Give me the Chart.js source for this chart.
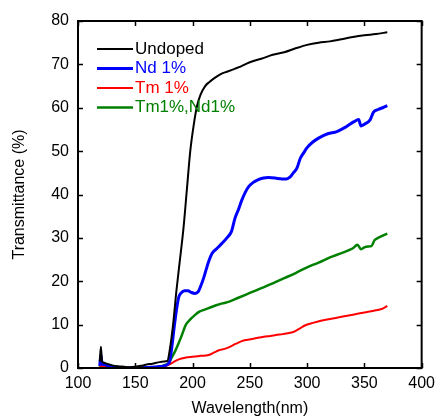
<!DOCTYPE html>
<html>
<head>
<meta charset="utf-8">
<script src="https://cdn.jsdelivr.net/npm/chart.js@4"></script>
<style>
html,body{margin:0;padding:0;background:#fff;}
#wrap{width:441px;height:418px;}
</style>
</head>
<body>
<div id="wrap"><canvas id="c" width="441" height="418"></canvas></div>
<script>
const seriesNames = ["Undoped", "Nd 1%", "Tm 1%", "Tm1%,Nd1%"];
const seriesColors = ["#000000", "#0000ff", "#ff0000", "#008000"];
const xTicks = [100, 150, 200, 250, 300, 350, 400];
const yTicks = [0, 10, 20, 30, 40, 50, 60, 70, 80];

const undopedWl = [119,120,121,123,125,130,135,140,145,150,155,160,165,170,175,178,180,183,186,189,192,195,198,201,204,207,211,215,220,225,230,235,240,250,260,270,280,290,300,310,320,330,340,350,360,370];
const undopedT  = [1.5,4.9,1.5,1.2,1.0,0.6,0.4,0.3,0.2,0.3,0.5,0.8,1.0,1.3,1.5,1.6,4,10,18,25,32,41,50,56,60.5,63,65,66,67,67.8,68.3,68.8,69.3,70.5,71.3,72.2,72.8,73.7,74.5,75,75.3,75.8,76.3,76.7,77,77.4];

const nd1Wl = [119,120,121,123,125,130,135,140,150,160,165,170,175,178,180,182,184,186,188,190,193,196,199,202,205,208,210,212,214,217,221,226,230,234,237,240,243,246,249,253,257,262,266,272,278,282,285,288,291,294,297,300,305,310,318,326,334,341,345,347,350,355,358,362,366,370];
const nd1T  = [0.5,3.0,1.0,0.8,0.6,0.3,0.1,0,0,0.1,0.2,0.3,0.5,0.8,1.5,5,9.5,13.5,16.4,17.3,17.8,17.8,17.4,17.2,17.6,19.5,21,22.8,24.5,26.4,27.5,28.8,30,31.5,34.5,36.5,38.7,40.5,41.8,42.8,43.4,43.8,43.9,43.8,43.6,43.6,44,45,46,48.3,49.6,50.8,52.1,53,54,54.5,55.6,56.8,57.3,55.8,56.2,57.2,59,59.6,60,60.5];

const tm1Wl = [119,120,121,125,130,140,150,160,170,175,179,183,188,194,200,207,214,219,223,228,232,238,243,248,254,260,268,276,283,288,293,298,305,312,320,330,340,350,360,365,370];
const tm1T  = [0.3,0.8,0.3,0.2,0.1,0,0,0,0.1,0.3,0.7,1.3,2,2.4,2.6,2.8,3,3.6,4.1,4.4,4.8,5.6,6.2,6.5,6.8,7.1,7.4,7.7,8,8.3,9,9.8,10.4,10.9,11.3,11.8,12.3,12.8,13.3,13.6,14.3];

const tmNdWl = [119,120,121,125,130,140,150,160,170,175,179,182,185,188,191,194,198,202,206,210,214,220,226,232,240,250,260,270,280,290,300,310,320,330,340,344,347,350,353,356,359,362,366,370];
const tmNdT  = [0.3,1.2,0.4,0.3,0.2,0,0,0.1,0.3,0.6,1.1,2.5,4,5.8,7.8,9.9,11.2,12.2,13,13.4,13.8,14.4,14.9,15.3,16.2,17.3,18.4,19.5,20.7,21.9,23.2,24.3,25.5,26.5,27.6,28.4,27.4,27.8,28,28.1,29.5,30,30.5,31];

const seriesWl = [undopedWl, nd1Wl, tm1Wl, tmNdWl];
const seriesT = [undopedT, nd1T, tm1T, tmNdT];
const seriesWidths = [2, 3, 2, 2.5];

const FONT = "'Liberation Sans', Arial, sans-serif";

const datasets = seriesNames.map((name, i) => ({
  label: name,
  data: seriesWl[i].map((w, j) => ({x: w, y: seriesT[i][j]})),
  borderColor: seriesColors[i],
  backgroundColor: seriesColors[i],
  borderWidth: seriesWidths[i],
  pointRadius: 0,
  showLine: true,
  fill: false,
  cubicInterpolationMode: 'monotone'
}));

const framePlugin = {
  id: 'frame',
  afterDraw(chart) {
    const ctx = chart.ctx, a = chart.chartArea;
    const xs = chart.scales.x, ys = chart.scales.y;
    ctx.save();
    ctx.strokeStyle = '#000';
    ctx.lineWidth = 2;
    ctx.strokeRect(a.left, a.top, a.right - a.left, a.bottom - a.top);
    ctx.lineWidth = 1.5;
    const L = 5;
    ctx.beginPath();
    xTicks.forEach(v => {
      const p = Math.round(xs.getPixelForValue(v)) + 0.5;
      ctx.moveTo(p, a.bottom); ctx.lineTo(p, a.bottom - L);
      ctx.moveTo(p, a.top); ctx.lineTo(p, a.top + L);
    });
    yTicks.forEach(v => {
      const p = Math.round(ys.getPixelForValue(v)) + 0.5;
      ctx.moveTo(a.left, p); ctx.lineTo(a.left + L, p);
      ctx.moveTo(a.right, p); ctx.lineTo(a.right - L, p);
    });
    ctx.stroke();

    // legend
    ctx.font = '17px ' + FONT;
    ctx.textBaseline = 'middle';
    ctx.textAlign = 'left';
    seriesNames.forEach((n, i) => {
      const y = a.top + 28 + i * 19.5;
      ctx.strokeStyle = seriesColors[i];
      ctx.lineWidth = seriesWidths[i];
      ctx.beginPath();
      ctx.moveTo(a.left + 19, y);
      ctx.lineTo(a.left + 55, y);
      ctx.stroke();
      ctx.fillStyle = seriesColors[i];
      ctx.fillText(n, a.left + 57, y);
    });
    ctx.restore();
  }
};

new Chart(document.getElementById('c'), {
  type: 'scatter',
  data: { datasets },
  options: {
    responsive: false,
    animation: false,
    devicePixelRatio: 1,
    layout: { padding: { top: 21, right: 15, left: 0, bottom: 0 } },
    plugins: { legend: { display: false }, tooltip: { enabled: false } },
    scales: {
      x: {
        type: 'linear', min: 100, max: 400,
        afterBuildTicks: s => { s.ticks = xTicks.map(v => ({value: v})); },
        afterFit: s => { s.height = 50; },
        grid: { display: false, drawTicks: false },
        border: { display: false },
        ticks: { color: '#000', font: { family: FONT, size: 16 }, padding: 6, maxRotation: 0 },
        title: { display: true, text: 'Wavelength(nm)', color: '#000', font: { family: FONT, size: 16 }, padding: { top: 0, bottom: 0 } }
      },
      y: {
        type: 'linear', min: 0, max: 80,
        afterBuildTicks: s => { s.ticks = yTicks.map(v => ({value: v})); },
        afterFit: s => { s.width = 78; },
        grid: { display: false, drawTicks: false },
        border: { display: false },
        ticks: { color: '#000', font: { family: FONT, size: 16 }, padding: 9 },
        title: { display: true, text: 'Transmittance (%)', color: '#000', font: { family: FONT, size: 16 }, padding: { top: 10, bottom: 0 } }
      }
    }
  },
  plugins: [framePlugin]
});
</script>
</body>
</html>
